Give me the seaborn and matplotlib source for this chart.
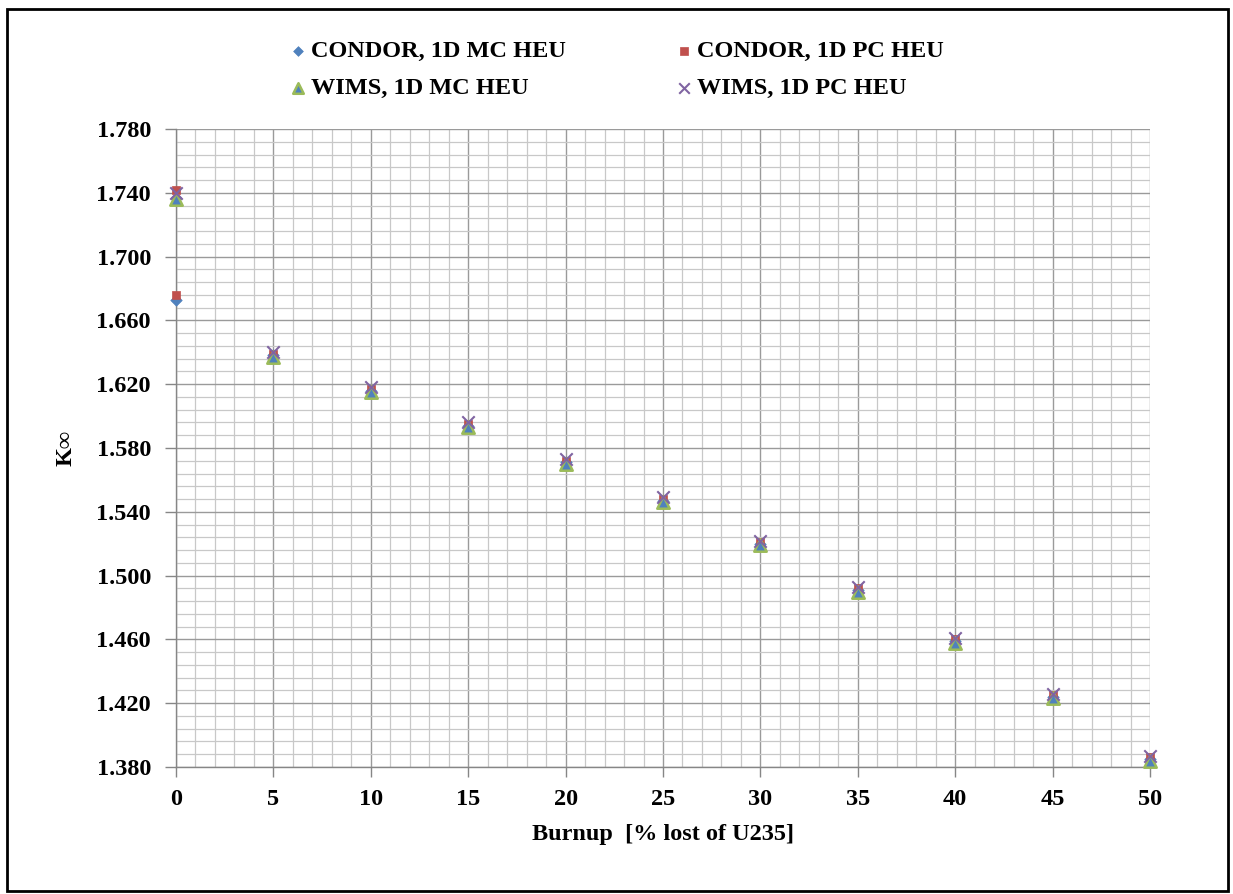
import numpy as np
import pandas as pd
import matplotlib
matplotlib.use("Agg")
import matplotlib.pyplot as plt
from matplotlib.ticker import FixedLocator, FormatStrFormatter, MultipleLocator
from matplotlib.patches import Rectangle
import seaborn as sns

# Burnup points (% of U235 lost); CONDOR runs have two states at zero burnup
burnup_condor = [0, 0, 5, 10, 15, 20, 25, 30, 35, 40, 45, 50]
burnup_wims = [0, 5, 10, 15, 20, 25, 30, 35, 40, 45, 50]

kinf_condor_mc = [1.737, 1.673, 1.638, 1.616, 1.594, 1.571, 1.547, 1.520, 1.491, 1.459, 1.424, 1.385]
kinf_condor_pc = [1.742, 1.676, 1.639, 1.617, 1.595, 1.572, 1.548, 1.521, 1.492, 1.460, 1.425, 1.386]
kinf_wims_mc = [1.736, 1.637, 1.615, 1.593, 1.570, 1.546, 1.519, 1.490, 1.458, 1.423, 1.384]
kinf_wims_pc = [1.740, 1.640, 1.618, 1.596, 1.573, 1.549, 1.522, 1.493, 1.461, 1.426, 1.387]

series_names = ["CONDOR, 1D MC HEU", "CONDOR, 1D PC HEU", "WIMS, 1D MC HEU", "WIMS, 1D PC HEU"]
y_ticks = [1.380, 1.420, 1.460, 1.500, 1.540, 1.580, 1.620, 1.660, 1.700, 1.740, 1.780]

sns.set_theme(style="white")
plt.rcParams["font.family"] = ["Liberation Serif", "DejaVu Serif"]
plt.rcParams["font.weight"] = "bold"
plt.rcParams["text.color"] = "black"
plt.rcParams["axes.labelcolor"] = "black"

fig = plt.figure(figsize=(12.33, 8.94), dpi=100)
ax = fig.add_axes([176 / 1233, 1 - 767 / 894, (1150 - 176) / 1233, (767 - 129) / 894])

styles = [
    dict(marker="D", s=34, color="#4F81BD", edgecolor="#4F81BD", linewidth=0.5),
    dict(marker="s", s=38, color="#C0504D", edgecolor="#C0504D", linewidth=0.5),
    dict(marker="^", s=80, color="#4F81BD", edgecolor="#9BBB59", linewidth=1.8),
    dict(marker="x", s=80, color="#8064A2", linewidth=1.5),
]
data = [
    (burnup_condor, kinf_condor_mc),
    (burnup_condor, kinf_condor_pc),
    (burnup_wims, kinf_wims_mc),
    (burnup_wims, kinf_wims_pc),
]
order = [2, 0, 3, 1]
for i in order:
    xs, ys = data[i]
    df = pd.DataFrame({"burnup": xs, "kinf": ys})
    sns.scatterplot(data=df, x="burnup", y="kinf", ax=ax, label=series_names[i],
                    zorder=3 + i, clip_on=False, **styles[i])

ax.set_xlim(0, 50)
ax.set_ylim(y_ticks[0], y_ticks[-1])
ax.xaxis.set_major_locator(MultipleLocator(5))
ax.xaxis.set_minor_locator(MultipleLocator(1))
ax.yaxis.set_major_locator(FixedLocator(y_ticks))
ax.yaxis.set_minor_locator(FixedLocator(np.linspace(y_ticks[0], y_ticks[-1], 51)))
ax.yaxis.set_major_formatter(FormatStrFormatter("%.3f"))

ax.grid(which="major", color="#9a9a9a", linewidth=1.0, zorder=0)
ax.grid(which="minor", color="#c8c8c8", linewidth=0.9, zorder=0)
ax.set_axisbelow(True)

for side in ["top", "right"]:
    ax.spines[side].set_visible(False)
for side in ["left", "bottom"]:
    ax.spines[side].set_color("#868686")
    ax.spines[side].set_linewidth(1.0)

ax.tick_params(axis="x", which="major", direction="out", length=7, width=1,
               color="#868686", labelcolor="black", labelsize=17.5, pad=9, bottom=True)
ax.tick_params(axis="y", which="major", direction="out", length=8, width=1,
               color="#868686", labelcolor="black", labelsize=17.5, pad=10, left=True)
ax.tick_params(axis="both", which="minor", length=0)
for lab in ax.get_xticklabels() + ax.get_yticklabels():
    lab.set_fontweight("bold")

ax.set_xlabel("Burnup  [% lost of U235]", fontsize=17.5, fontweight="bold", labelpad=10)
ax.set_ylabel("K\u221e", fontsize=17.5, fontweight="bold", labelpad=14)

handles, labels = ax.get_legend_handles_labels()
hmap = dict(zip(labels, handles))
ax.legend_.remove()
# legend fills column by column; this order gives CONDOR on row 1, WIMS on row 2
leg_order = [series_names[0], series_names[2], series_names[1], series_names[3]]
fig.legend([hmap[n] for n in leg_order], leg_order, ncol=2,
           loc="upper left", bbox_to_anchor=(288 / 1233, 1 - 40 / 894), frameon=False,
           prop=dict(size=17.5, weight="bold"), handletextpad=0.15,
           columnspacing=4.45, handlelength=0.8, labelspacing=0.62,
           borderpad=0, borderaxespad=0, markerscale=0.85)

# outer chart border
fig.patches.append(Rectangle((7 / 1233, 3 / 894), 1221 / 1233, 882 / 894, transform=fig.transFigure,
                             fill=False, edgecolor="#000000", linewidth=2.0))

fig.savefig("out.png", dpi=100)
